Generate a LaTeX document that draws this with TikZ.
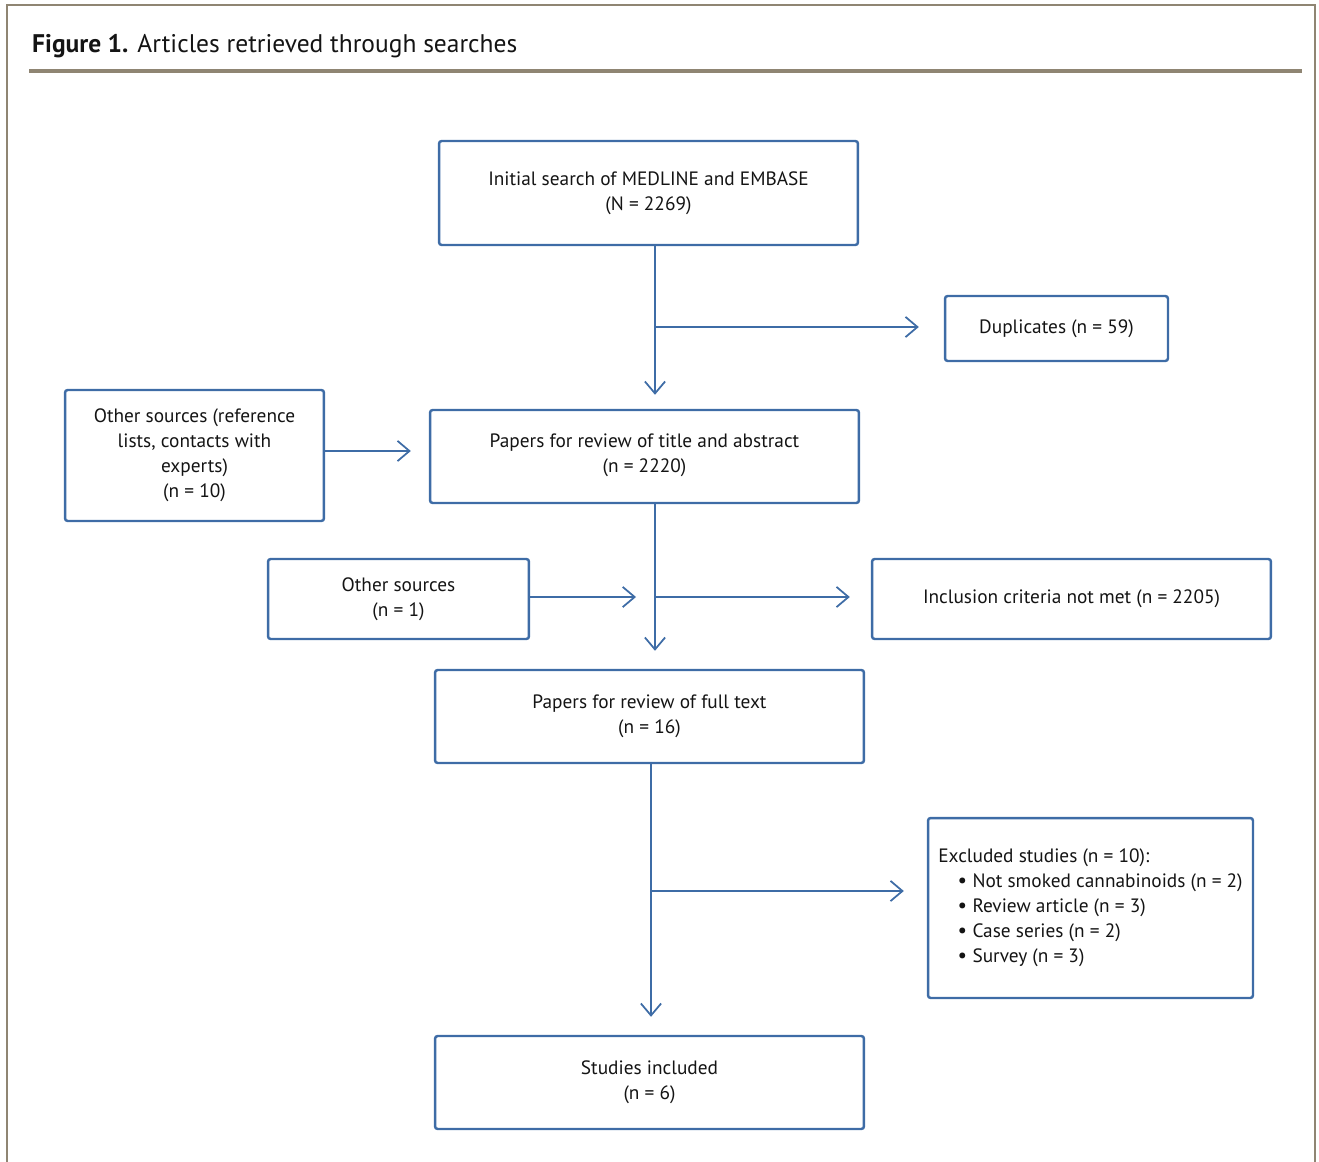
\documentclass[tikz,border=0pt]{standalone}
\usepackage{fontspec}
\setmainfont{PT Sans}
\usepackage{tikz}
\usetikzlibrary{calc, arrows.meta, positioning}
\usepackage{xcolor}
\definecolor{boxblue}{RGB}{62,108,166}
\definecolor{framegrey}{RGB}{143,133,115}
\definecolor{txtgrey}{RGB}{20,20,20}

\begin{document}
\begin{tikzpicture}[x=0.02cm, y=-0.02cm,
  font=\fontsize{11}{14.2}\selectfont, text=txtgrey,
  box/.style={draw=boxblue, line width=1.4pt, rounded corners=1.5pt, align=center, inner sep=0pt},
  arr/.style={draw=boxblue, line width=1pt, -{Straight Barb[length=6.8pt, width=11.5pt, line width=1pt]}}]
			\useasboundingbox (0,0) rectangle (1319,1162);
			% frame and heading
			\draw[framegrey, line width=1.3pt] (7,1162) -- (7,5) -- (1315,5) -- (1315,1162);
			\node[anchor=west, font=\fontsize{14.5}{17}\selectfont] (head) at (26,46) {\textbf{Figure 1.} Articles retrieved through searches};
			\draw[framegrey, line width=1.8pt] (29,71) -- (1302,71);
			% boxes
			\node[box, minimum width=8.38cm, minimum height=2.08cm] (search) at (648.5,193) {Initial search of MEDLINE and EMBASE\\(N = 2269)};
			\node[box, minimum width=4.46cm, minimum height=1.30cm] (dup) at (1056.5,328.5) {Duplicates (n = 59)};
			\node[box, minimum width=5.18cm, minimum height=2.62cm] (refs) at (194.5,455.5) {Other sources (reference\\lists, contacts with\\experts)\\(n = 10)};
			\node[box, minimum width=8.58cm, minimum height=1.86cm, text depth=0.12cm] (abstract) at (644.5,456.5) {Papers for review of title and abstract\\(n = 2220)};
			\node[box, minimum width=5.22cm, minimum height=1.60cm, text depth=0.08cm] (other) at (398.5,599) {Other sources\\(n = 1)};
			\node[box, minimum width=7.98cm, minimum height=1.60cm] (notmet) at (1071.5,599) {Inclusion criteria not met (n = 2205)};
			\node[box, minimum width=8.58cm, minimum height=1.86cm] (fulltext) at (649.5,716.5) {Papers for review of full text\\(n = 16)};
			\node[box, minimum width=6.50cm, minimum height=3.60cm, align=left] (excl) at (1090.5,908) {Excluded studies (n = 10):\\
				\hspace{11pt}{\large\textbullet}\hspace{3pt}Not smoked cannabinoids (n = 2)\\
				\hspace{11pt}{\large\textbullet}\hspace{3pt}Review article (n = 3)\\
				\hspace{11pt}{\large\textbullet}\hspace{3pt}Case series (n = 2)\\
				\hspace{11pt}{\large\textbullet}\hspace{3pt}Survey (n = 3)};
			\node[box, minimum width=8.58cm, minimum height=1.86cm] (included) at (649.5,1082.5) {Studies included\\(n = 6)};
			% branch points
			\coordinate (j1) at (655,327);
			\coordinate (j2) at (655,597);
			\coordinate (j3) at (651,891);
			% arrows
			\draw[arr, shorten >=0.28cm] (search.south -| j1) -- (abstract.north -| j1);
			\draw[arr, shorten >=0.5cm] (j1) -- (j1 -| dup.west);
			\draw[arr, shorten >=0.36cm] (refs.east |- 0,451) -- (abstract.west |- 0,451);
			\draw[arr, shorten >=0.36cm] (abstract.south -| j2) -- (fulltext.north -| j2);
			\draw[arr, shorten >=0.38cm] (other.east |- j2) -- (j2);
			\draw[arr, shorten >=0.42cm] (j2) -- (j2 -| notmet.west);
			\draw[arr, shorten >=0.36cm] (fulltext.south -| j3) -- (included.north -| j3);
			\draw[arr, shorten >=0.46cm] (j3) -- (j3 -| excl.west);
		\end{tikzpicture}
\end{document}
